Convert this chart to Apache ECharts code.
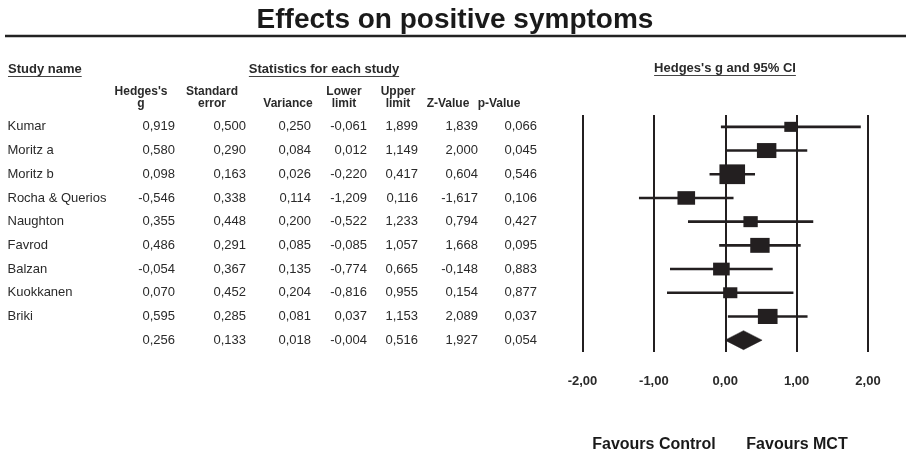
<!DOCTYPE html>
<html>
<head>
<meta charset="utf-8">
<script src="https://cdn.jsdelivr.net/npm/echarts@6/dist/echarts.min.js"></script>
<style>
html,body{margin:0;padding:0;background:#ffffff;}
#c{width:906px;height:452px;}
</style>
</head>
<body>
<div id="c"></div>
<script>
// ---------------- data ----------------
const studies    = ['Kumar', 'Moritz a', 'Moritz b', 'Rocha & Querios', 'Naughton', 'Favrod', 'Balzan', 'Kuokkanen', 'Briki'];
const hedgesG    = [0.919, 0.580, 0.098, -0.546, 0.355, 0.486, -0.054, 0.070, 0.595];
const stdErr     = [0.500, 0.290, 0.163, 0.338, 0.448, 0.291, 0.367, 0.452, 0.285];
const variance   = [0.250, 0.084, 0.026, 0.114, 0.200, 0.085, 0.135, 0.204, 0.081];
const lowerLimit = [-0.061, 0.012, -0.220, -1.209, -0.522, -0.085, -0.774, -0.816, 0.037];
const upperLimit = [1.899, 1.149, 0.417, 0.116, 1.233, 1.057, 0.665, 0.955, 1.153];
const zValue     = [1.839, 2.000, 0.604, -1.617, 0.794, 1.668, -0.148, 0.154, 2.089];
const pValue     = [0.066, 0.045, 0.546, 0.106, 0.427, 0.095, 0.883, 0.877, 0.037];
// pooled (random effects) row: g, SE, variance, lower, upper, Z, p
const pooled     = [0.256, 0.133, 0.018, -0.004, 0.516, 1.927, 0.054];
const columnHeaders = [["Hedges's", 'g'], ['Standard', 'error'], ['', 'Variance'], ['Lower', 'limit'], ['Upper', 'limit'], ['', 'Z-Value'], ['', 'p-Value']];
const axisMin = -2, axisMax = 2, axisStep = 1;
const tau2 = 0.053; // between-study variance used for study weights (square sizes)

// ---------------- styling / layout ----------------
const FONT = "'Liberation Sans', Arial, Helvetica, sans-serif";
const INK = '#231f20';
const TXT = '#2a2a2a';
const fmt3 = v => v.toFixed(3).replace('.', ',');
const fmt2 = v => v.toFixed(2).replace('.', ',');
const rowNames = studies.concat(['']);
const tableRows = studies.map((s, i) => [hedgesG[i], stdErr[i], variance[i], lowerLimit[i], upperLimit[i], zValue[i], pValue[i]]).concat([pooled]);
const colRight = [175, 246, 311, 367, 418, 478, 537];
const headerCenter = [141, 212, 288, 344, 398, 448, 499];

function textWidth(str, font) {
  const ctx = document.createElement('canvas').getContext('2d');
  ctx.font = font;
  return ctx.measureText(str).width;
}

const graphics = [];
function addText(str, x, y, size, bold, align, color) {
  graphics.push({
    type: 'text', x: x, y: y, silent: true,
    style: {
      text: str, fill: color || TXT,
      font: (bold ? 'bold ' : '') + size + 'px ' + FONT,
      textAlign: align, textVerticalAlign: 'middle',
      align: align, verticalAlign: 'middle'
    }
  });
}
function addLine(x1, y1, x2, y2, w, color) {
  graphics.push({ type: 'line', silent: true, shape: { x1: x1, y1: y1, x2: x2, y2: y2 }, style: { stroke: color || INK, lineWidth: w } });
}
function addUnderlined(str, x, y, size, align) {
  addText(str, x, y, size, true, align);
  const w = textWidth(str, 'bold ' + size + 'px ' + FONT);
  const x0 = align === 'center' ? x - w / 2 : x;
  addLine(x0, y + 7.5, x0 + w, y + 7.5, 1, '#444');
}

// title and rule
addText('Effects on positive symptoms', 455, 20, 28, true, 'center', '#1a1a1a');
addLine(5, 36, 906, 36, 2.5, '#222');
// section headers
addUnderlined('Study name', 8, 69, 13, 'left');
addUnderlined('Statistics for each study', 324, 69, 13, 'center');
addUnderlined("Hedges's g and 95% CI", 725, 68, 13, 'center');
// column headers
columnHeaders.forEach((h, k) => {
  if (h[0]) addText(h[0], headerCenter[k], 92, 12, true, 'center');
  addText(h[1], headerCenter[k], 104, 12, true, 'center');
});
// favours labels
addText('Favours Control', 654, 445, 16, true, 'center', '#1a1a1a');
addText('Favours MCT', 797, 445, 16, true, 'center', '#1a1a1a');

// ---------------- chart ----------------
const chart = echarts.init(document.getElementById('c'), null, { renderer: 'canvas' });

const forestData = studies.map((s, i) => [hedgesG[i], i, lowerLimit[i], upperLimit[i], variance[i]])
  .concat([[pooled[0], studies.length, pooled[3], pooled[4], pooled[2]]]);
const tableData = rowNames.map((s, i) => [0, i]);

chart.setOption({
  animation: false,
  backgroundColor: '#ffffff',
  grid: { left: 582.5, right: 38, top: 115, height: 237, containLabel: false },
  xAxis: {
    type: 'value', min: axisMin, max: axisMax, interval: axisStep,
    axisLine: { show: false }, axisTick: { show: false },
    splitLine: { show: true, showMinLine: true, showMaxLine: true, lineStyle: { color: INK, width: 2 } },
    axisLabel: {
      margin: 23, fontFamily: FONT, fontSize: 13, fontWeight: 'bold', color: TXT,
      formatter: v => fmt2(v)
    }
  },
  yAxis: {
    type: 'category', data: rowNames, inverse: true, show: false,
    boundaryGap: true
  },
  graphic: graphics,
  series: [
    {
      type: 'custom', name: 'table', silent: true, clip: false,
      encode: { x: 0, y: 1 },
      data: tableData,
      renderItem: function (params, api) {
        const i = params.dataIndex;
        const y = api.coord([0, i])[1];
        const children = [{
          type: 'text', x: 7.5, y: y,
          style: { text: rowNames[i], fill: TXT, font: '13px ' + FONT, textAlign: 'left', textVerticalAlign: 'middle', align: 'left', verticalAlign: 'middle' }
        }];
        tableRows[i].forEach((v, k) => {
          children.push({
            type: 'text', x: colRight[k], y: y,
            style: { text: fmt3(v), fill: TXT, font: '13px ' + FONT, textAlign: 'right', textVerticalAlign: 'middle', align: 'right', verticalAlign: 'middle' }
          });
        });
        return { type: 'group', children: children };
      }
    },
    {
      type: 'custom', name: 'forest', silent: true, clip: false,
      encode: { x: 0, y: 1 },
      data: forestData,
      renderItem: function (params, api) {
        const row = api.value(1);
        const c = api.coord([api.value(0), row]);
        const lo = api.coord([api.value(2), row]);
        const hi = api.coord([api.value(3), row]);
        if (params.dataIndex === studies.length) {
          const hh = 9.5;
          return {
            type: 'polygon',
            shape: { points: [[lo[0], c[1]], [c[0], c[1] - hh], [hi[0], c[1]], [c[0], c[1] + hh]] },
            style: { fill: INK, stroke: INK, lineWidth: 0.5 }
          };
        }
        const w = 7.2 * Math.sqrt(1 / (api.value(4) + tau2));
        const h = 0.77 * w;
        return {
          type: 'group',
          children: [
            { type: 'line', shape: { x1: lo[0], y1: c[1], x2: hi[0], y2: c[1] }, style: { stroke: INK, lineWidth: 2.6 } },
            { type: 'rect', shape: { x: c[0] - w / 2, y: c[1] - h / 2, width: w, height: h }, style: { fill: INK } }
          ]
        };
      }
    }
  ]
});
</script>
</body>
</html>
